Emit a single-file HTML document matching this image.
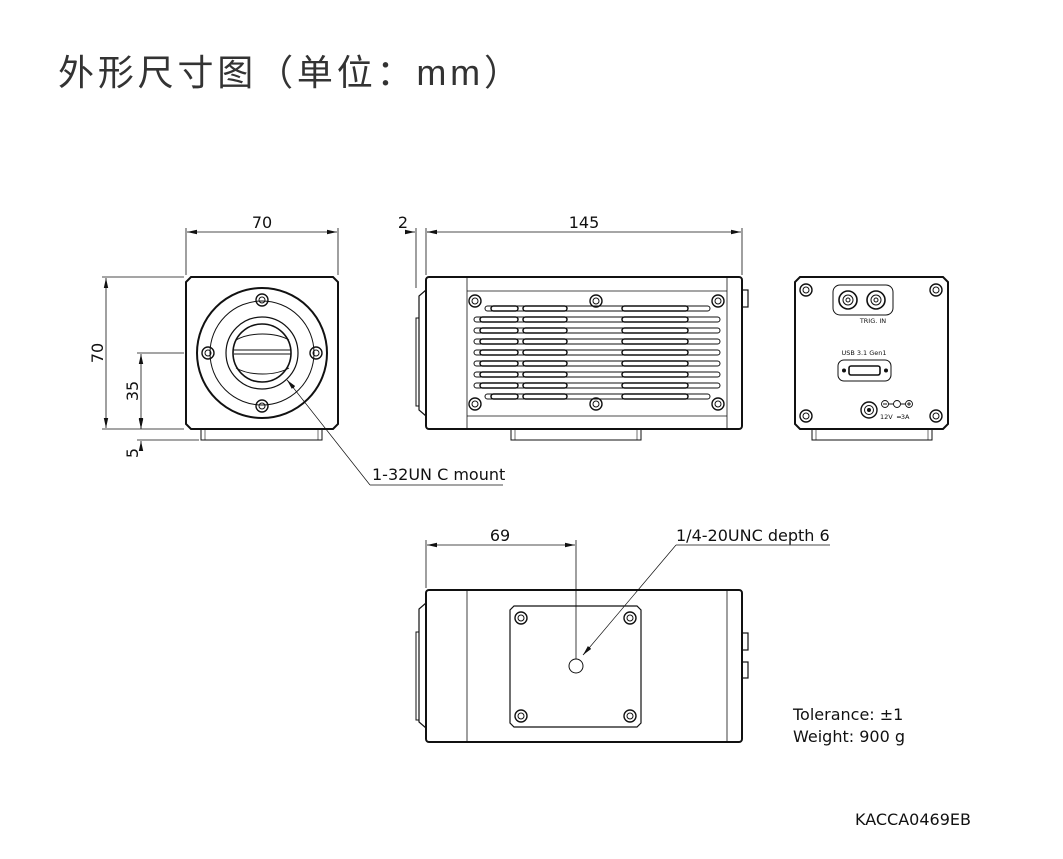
<!DOCTYPE html>
<html><head><meta charset="utf-8"><style>
html,body{margin:0;padding:0;background:#fff;width:1063px;height:859px;overflow:hidden}
svg{display:block}
text{font-family:"DejaVu Sans","Liberation Sans",sans-serif;fill:#111}
</style></head><body>
<svg width="1063" height="859" viewBox="0 0 1063 859" xmlns="http://www.w3.org/2000/svg">
<defs>
<marker id="a" markerWidth="10" markerHeight="6" refX="10" refY="3" orient="auto-start-reverse" markerUnits="userSpaceOnUse"><path d="M0,0.8 L10,3 L0,5.2z" fill="#111"/></marker>
<g id="scr"><circle r="6" fill="none" stroke="#111" stroke-width="1.4"/><circle r="3" fill="none" stroke="#111" stroke-width="1"/></g>
</defs>
<text x="58" y="85" style="font-family:'Liberation Sans','Noto Sans CJK SC',sans-serif;font-size:36px;fill:#333" textLength="462">外形尺寸图（单位：mm）</text>

<g fill="none" stroke="#111">
<!-- FRONT VIEW -->
<path d="M191,277 H333 L338,282 V424 L333,429 H191 L186,424 V282Z" stroke-width="2"/>
<rect x="201" y="429" width="121" height="11" stroke-width="1"/>
<rect x="205" y="429" width="113" height="11" stroke-width="0.6"/>
<circle cx="262" cy="353" r="65" stroke-width="2"/>
<circle cx="262" cy="353" r="52" stroke-width="1"/>
<circle cx="262" cy="353" r="36" stroke-width="1.2"/>
<circle cx="262" cy="353" r="29" stroke-width="1.6"/>
<path d="M236,340 C250,332 275,332 289,340 M234,350 H291 M234,354 H291 M236,368 C250,376 275,376 289,368" stroke-width="1"/>
<use href="#scr" x="262" y="300"/><use href="#scr" x="208" y="353"/><use href="#scr" x="316" y="353"/><use href="#scr" x="262" y="406"/>
<!-- front dims -->
<g stroke-width="0.8">
<path d="M186,228 V275 M338,228 V275 M102,277 H184 M102,429 H184 M137,353 H184 M137,440 H199"/>
<path d="M187,232 H337" marker-start="url(#a)" marker-end="url(#a)"/>
<path d="M106,278 V428" marker-start="url(#a)" marker-end="url(#a)"/>
<path d="M141,354 V428" marker-start="url(#a)" marker-end="url(#a)"/>
<path d="M141,418 V429" marker-end="url(#a)"/>
<path d="M141,451 V441" marker-end="url(#a)"/>
<path d="M370,485 L288,381 M370,485 H503" stroke-width="0.7"/>
<path d="M294,388 L287,380" marker-end="url(#a)"/>
</g>

<!-- SIDE VIEW -->
<rect x="426" y="277" width="316" height="152" rx="3" stroke-width="2"/>
<path d="M467,277 V429 M727,277 V429 M467,291 H727 M467,416 H727" stroke-width="0.8"/>
<path d="M426,290 L419,296 V410 L426,416" stroke-width="1.2"/>
<rect x="416" y="318" width="3" height="88" stroke-width="1"/>
<rect x="742" y="290" width="6" height="17" stroke-width="1.2"/>
<rect x="511" y="429" width="130" height="11" stroke-width="1"/>
<rect x="515" y="429" width="122" height="11" stroke-width="0.6"/>
<use href="#scr" x="475" y="301"/><use href="#scr" x="596" y="301"/><use href="#scr" x="718" y="301"/>
<use href="#scr" x="475" y="404"/><use href="#scr" x="596" y="404"/><use href="#scr" x="718" y="404"/>
<g stroke-width="1">
<rect x="485" y="306" width="225" height="5" rx="2.5"/><rect x="491" y="306" width="27" height="5" rx="2.5" stroke-width="1.5"/><rect x="523" y="306" width="44" height="5" rx="2.5" stroke-width="1.5"/><rect x="622" y="306" width="66" height="5" rx="2.5" stroke-width="1.5"/>
<rect x="474" y="317" width="246" height="5" rx="2.5"/><rect x="480" y="317" width="38" height="5" rx="2.5" stroke-width="1.5"/><rect x="523" y="317" width="44" height="5" rx="2.5" stroke-width="1.5"/><rect x="622" y="317" width="66" height="5" rx="2.5" stroke-width="1.5"/>
<rect x="474" y="328" width="246" height="5" rx="2.5"/><rect x="480" y="328" width="38" height="5" rx="2.5" stroke-width="1.5"/><rect x="523" y="328" width="44" height="5" rx="2.5" stroke-width="1.5"/><rect x="622" y="328" width="66" height="5" rx="2.5" stroke-width="1.5"/>
<rect x="474" y="339" width="246" height="5" rx="2.5"/><rect x="480" y="339" width="38" height="5" rx="2.5" stroke-width="1.5"/><rect x="523" y="339" width="44" height="5" rx="2.5" stroke-width="1.5"/><rect x="622" y="339" width="66" height="5" rx="2.5" stroke-width="1.5"/>
<rect x="474" y="350" width="246" height="5" rx="2.5"/><rect x="480" y="350" width="38" height="5" rx="2.5" stroke-width="1.5"/><rect x="523" y="350" width="44" height="5" rx="2.5" stroke-width="1.5"/><rect x="622" y="350" width="66" height="5" rx="2.5" stroke-width="1.5"/>
<rect x="474" y="361" width="246" height="5" rx="2.5"/><rect x="480" y="361" width="38" height="5" rx="2.5" stroke-width="1.5"/><rect x="523" y="361" width="44" height="5" rx="2.5" stroke-width="1.5"/><rect x="622" y="361" width="66" height="5" rx="2.5" stroke-width="1.5"/>
<rect x="474" y="372" width="246" height="5" rx="2.5"/><rect x="480" y="372" width="38" height="5" rx="2.5" stroke-width="1.5"/><rect x="523" y="372" width="44" height="5" rx="2.5" stroke-width="1.5"/><rect x="622" y="372" width="66" height="5" rx="2.5" stroke-width="1.5"/>
<rect x="474" y="383" width="246" height="5" rx="2.5"/><rect x="480" y="383" width="38" height="5" rx="2.5" stroke-width="1.5"/><rect x="523" y="383" width="44" height="5" rx="2.5" stroke-width="1.5"/><rect x="622" y="383" width="66" height="5" rx="2.5" stroke-width="1.5"/>
<rect x="485" y="394" width="225" height="5" rx="2.5"/><rect x="491" y="394" width="27" height="5" rx="2.5" stroke-width="1.5"/><rect x="523" y="394" width="44" height="5" rx="2.5" stroke-width="1.5"/><rect x="622" y="394" width="66" height="5" rx="2.5" stroke-width="1.5"/>
</g>
<g stroke-width="0.8">
<path d="M416,228 V288 M426,228 V275 M742,228 V275"/>
<path d="M406,232 H415" marker-end="url(#a)"/>
<path d="M437,232 H427" marker-end="url(#a)"/>
<path d="M427,232 H741" marker-end="url(#a)"/>
</g>

<!-- BACK VIEW -->
<path d="M800,277 H943 L948,282 V424 L943,429 H800 L795,424 V282Z" stroke-width="2"/>
<rect x="812" y="429" width="120" height="11" stroke-width="1"/>
<rect x="816" y="429" width="112" height="11" stroke-width="0.6"/>
<use href="#scr" x="806" y="290"/><use href="#scr" x="936" y="290"/><use href="#scr" x="806" y="416"/><use href="#scr" x="936" y="416"/>
<rect x="833" y="285" width="60" height="30" rx="7" stroke-width="1"/>
<circle cx="848" cy="300" r="9" stroke-width="1.6"/><circle cx="848" cy="300" r="5" stroke-width="1"/><circle cx="848" cy="300" r="2" stroke-width="1"/>
<circle cx="876" cy="300" r="9" stroke-width="1.6"/><circle cx="876" cy="300" r="5" stroke-width="1"/><circle cx="876" cy="300" r="2" stroke-width="1"/>
<rect x="838" y="360" width="53" height="21" rx="6" stroke-width="1"/>
<rect x="849" y="366" width="31" height="9" rx="2" stroke-width="1.6"/>
<circle cx="844" cy="370.5" r="1.5" fill="#111"/><circle cx="886" cy="370.5" r="1.5" fill="#111"/>
<circle cx="869" cy="410" r="8" stroke-width="1.4"/><circle cx="869" cy="410" r="4.5" stroke-width="1"/><circle cx="869" cy="410" r="1.5" fill="#111"/>
<g stroke-width="0.9"><circle cx="885" cy="404" r="3.5"/><circle cx="897" cy="404" r="3.5"/><circle cx="909" cy="404" r="3.5"/><path d="M888.5,404 H893.5 M900.5,404 H905.5 M883,404 H887 M907,404 H911 M909,402 V406"/></g>

<!-- BOTTOM VIEW -->
<rect x="426" y="590" width="316" height="152" rx="3" stroke-width="2"/>
<path d="M467,590 V742 M727,590 V742" stroke-width="0.8"/>
<path d="M426,603 L419,609 V722 L426,728" stroke-width="1.2"/>
<rect x="416" y="632" width="3" height="88" stroke-width="1"/>
<rect x="742" y="633" width="6" height="17" stroke-width="1.2"/>
<rect x="742" y="662" width="6" height="16" stroke-width="1.2"/>
<path d="M514,606 H637 L641,610 V723 L637,727 H514 L510,723 V610Z" stroke-width="1.2"/>
<use href="#scr" x="521" y="618"/><use href="#scr" x="630" y="618"/><use href="#scr" x="521" y="716"/><use href="#scr" x="630" y="716"/>
<circle cx="576" cy="666" r="7" stroke-width="1"/>
<g stroke-width="0.8">
<path d="M426,540 V588 M576,540 V659"/>
<path d="M427,545 H575" marker-start="url(#a)" marker-end="url(#a)"/>
<path d="M676,545 L584,654 M676,545 H830" stroke-width="0.7"/>
<path d="M590,647 L583,655" marker-end="url(#a)"/>
</g>
</g>

<!-- labels -->
<g font-size="16">
<text x="262" y="228" text-anchor="middle">70</text>
<text x="403" y="228" text-anchor="middle">2</text>
<text x="584" y="228" text-anchor="middle">145</text>
<text transform="translate(103,353) rotate(-90)" text-anchor="middle">70</text>
<text transform="translate(138,391) rotate(-90)" text-anchor="middle">35</text>
<text transform="translate(138,453) rotate(-90)" text-anchor="middle">5</text>
<text x="372" y="480">1-32UN C mount</text>
<text x="500" y="541" text-anchor="middle">69</text>
<text x="676" y="541">1/4-20UNC depth 6</text>
<text x="793" y="720">Tolerance: ±1</text>
<text x="793" y="742">Weight: 900 g</text>
<text x="855" y="825">KACCA0469EB</text>
</g>
<g font-size="6.5">
<text x="873" y="323" text-anchor="middle">TRIG. IN</text>
<text x="864" y="355" text-anchor="middle">USB 3.1 Gen1</text>
<text x="880" y="419">12V</text>
<text x="897" y="419">═3A</text>
</g>
</svg>
</body></html>
